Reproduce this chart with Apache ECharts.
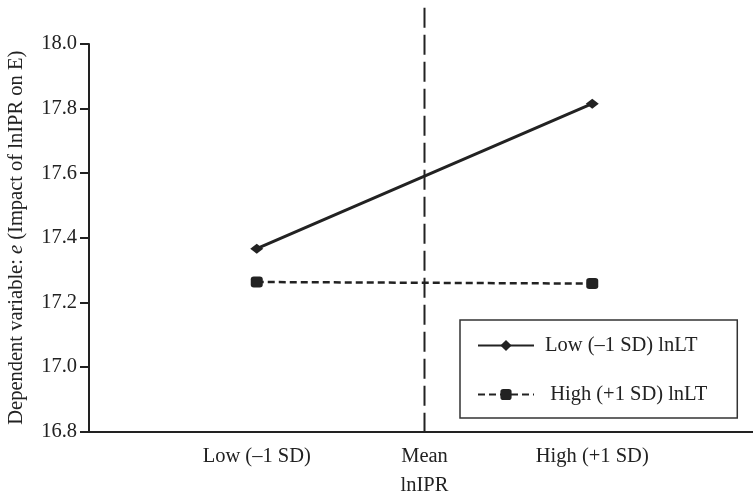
<!DOCTYPE html>
<html>
<head>
<meta charset="utf-8">
<script src="https://cdn.jsdelivr.net/npm/echarts@6/dist/echarts.min.js"></script>
<style>html,body{margin:0;padding:0;background:#fff;}#c{width:753px;height:498px;}</style>
</head>
<body>
<div id="c"></div>
<script>
const categories = ['Low (\u20131 SD)', 'Mean', 'High (+1 SD)'];
const lowLT = [17.366, null, 17.815];
const highLT = [17.263, null, 17.258];
const yTicks = [16.8, 17.0, 17.2, 17.4, 17.6, 17.8, 18.0];
const meanLineY = [18.112, 16.775];
const seriesNames = ['Low (\u20131 SD) lnLT', ' High (+1 SD) lnLT'];

const ink = '#222';
const font = 'Liberation Serif';
const fs = 20.5;
const xCats = [''].concat(categories).concat(['']);
const pad = arr => [null].concat(arr).concat([null]);

const chart = echarts.init(document.getElementById('c'));
chart.setOption({
  animation: false,
  backgroundColor: '#fff',
  textStyle: { fontFamily: font, color: ink },
  grid: { left: 89, width: 671, top: 44, height: 387.5, containLabel: false, outerBoundsMode: 'none' },
  xAxis: {
    type: 'category',
    data: xCats,
    boundaryGap: false,
    name: 'lnIPR',
    nameLocation: 'middle',
    nameGap: 44,
    nameTextStyle: { fontFamily: font, fontSize: fs, color: ink },
    axisLine: { lineStyle: { color: ink, width: 2 } },
    axisTick: { show: false },
    axisLabel: { interval: 0, margin: 15, fontFamily: font, fontSize: fs, color: ink },
    splitLine: { show: false }
  },
  yAxis: {
    type: 'value',
    min: yTicks[0],
    max: yTicks[yTicks.length - 1],
    interval: 0.2,
    name: 'Dependent variable: {i|e} (Impact of lnIPR on E)',
    nameLocation: 'middle',
    nameGap: 62,
    nameTextStyle: {
      fontFamily: font, fontSize: fs, color: ink,
      rich: { i: { fontFamily: font, fontSize: fs, fontStyle: 'italic', color: ink } }
    },
    axisLine: { show: true, lineStyle: { color: ink, width: 2 } },
    axisTick: { show: true, length: 9, lineStyle: { color: ink, width: 2 } },
    axisLabel: { margin: 12, fontFamily: font, fontSize: fs, color: ink, formatter: v => v.toFixed(1) },
    splitLine: { show: false }
  },
  legend: {
    data: seriesNames,
    orient: 'vertical',
    left: 460,
    top: 320,
    padding: [15, 30, 13, 17],
    itemGap: 28,
    itemWidth: 56,
    itemHeight: 14,
    borderColor: '#333',
    borderWidth: 1.5,
    backgroundColor: '#fff',
    textStyle: { fontFamily: font, fontSize: fs, color: ink, padding: [0, 0, 0, 6] }
  },
  series: [
    {
      name: 'meanLine',
      type: 'line',
      data: meanLineY.map(v => ['Mean', v]),
      clip: false,
      symbol: 'none',
      silent: true,
      z: 1,
      lineStyle: { color: ink, width: 2, type: [20, 7] }
    },
    {
      name: seriesNames[0],
      type: 'line',
      data: pad(lowLT),
      connectNulls: true,
      symbol: 'diamond',
      symbolSize: [13, 10],
      itemStyle: { color: ink },
      lineStyle: { color: ink, width: 3 },
      z: 3
    },
    {
      name: seriesNames[1],
      type: 'line',
      data: pad(highLT),
      connectNulls: true,
      symbol: 'roundRect',
      symbolSize: [12, 11],
      itemStyle: { color: ink },
      lineStyle: { color: ink, width: 2.5, type: [7, 4] },
      z: 3
    }
  ]
});
</script>
</body>
</html>
